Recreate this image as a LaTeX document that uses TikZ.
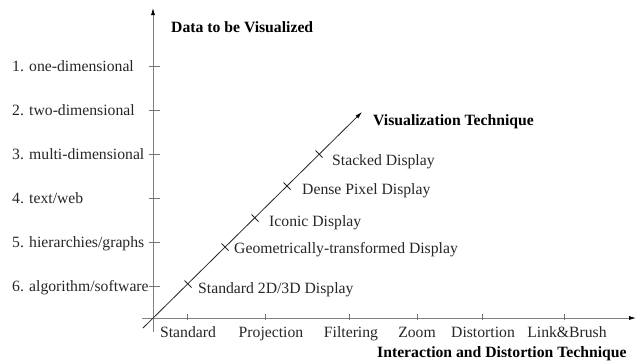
\documentclass[tikz,border=0pt]{standalone}
\usepackage{fontspec}
\setmainfont{Liberation Serif}
\usetikzlibrary{arrows.meta}
\begin{document}
\begin{tikzpicture}[x=1pt,y=-1pt,
  axisline/.style={draw=black!50, line width=0.8pt, -{Latex[length=7pt,width=4pt,color=black]}},
  diagline/.style={draw=black!85, line width=0.8pt, -{Latex[length=7pt,width=4pt,color=black]}},
  tickmark/.style={draw=black!55, line width=0.8pt},
  dtick/.style={draw=black!85, line width=0.8pt},
  lbl/.style={inner sep=0pt, font=\fontsize{15.7pt}{18pt}\selectfont, text=black!85},
  blbl/.style={inner sep=0pt, font=\fontsize{15.7pt}{18pt}\selectfont\bfseries, text=black},
]
\useasboundingbox (0,0) rectangle (636,360);
% axes
\coordinate (vbot) at (153,332);
\coordinate (vtop) at (153,8);
\coordinate (hleft) at (142,318);
\coordinate (hright) at (636,318);
\coordinate (dbot) at (143,328);
\coordinate (dtop) at (362,112);
\draw[axisline] (vbot) -- (vtop);
\draw[axisline] (hleft) -- (hright);
\draw[diagline] (dbot) -- (dtop);
% vertical ticks and labels
\foreach \y/\t [count=\i] in {66.5/{1. one-dimensional},110.4/{2. two-dimensional},154.3/{3. multi-dimensional},198.2/{4. text/web},242.1/{5. hierarchies/graphs},286/{6. algorithm/software}}{
  \coordinate (vt\i) at (153,\y);
  \draw[tickmark] ([xshift=-4pt]vt\i) -- ([xshift=7pt]vt\i);
  \node[lbl, anchor=base west] (vl\i) at (12,\y+5) {\t};
}
% horizontal ticks and labels
\foreach \x/\lx/\t [count=\i] in {187/188/Standard,265/271/Projection,349/351/Filtering,417/417/Zoom,482/483/Distortion,564/567/{Link\&Brush}}{
  \coordinate (ht\i) at (\x,318);
  \draw[tickmark] ([yshift=-2pt]ht\i) -- ([yshift=4pt]ht\i);
  \node[lbl, anchor=base] (hl\i) at (\lx,337) {\t};
}
% diagonal ticks and labels
\foreach \cx/\cy/\lx/\ly/\t [count=\i] in {188/284/198/293/{Standard 2D/3D Display},225/247/234/253/{Geometrically-transformed Display},255/218/269/226/{Iconic Display},287/186/302/194/{Dense Pixel Display},319/154/332/165/{Stacked Display}}{
  \coordinate (dt\i) at (\cx,\cy);
  \draw[dtick] ([shift={(-3.5,-3.5)}]dt\i) -- ([shift={(3.5,3.5)}]dt\i);
  \node[lbl, anchor=base west] (dl\i) at (\lx,\ly) {\t};
}
% axis titles
\node[blbl, anchor=base west] (tdata) at (171,32) {Data to be Visualized};
\node[blbl, anchor=base west] (tvis) at (373,125) {Visualization Technique};
\node[blbl, anchor=base west] (tint) at (377,357) {Interaction and Distortion Technique};
\end{tikzpicture}
\end{document}
